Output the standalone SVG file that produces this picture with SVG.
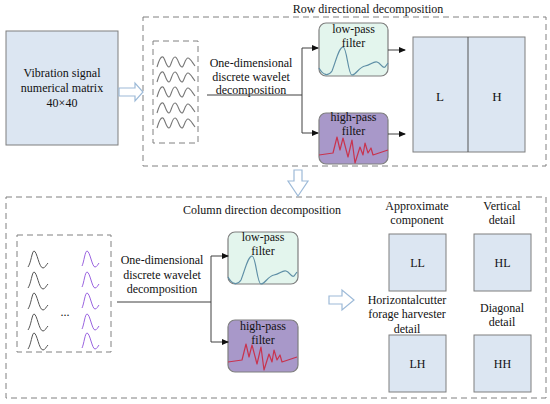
<svg xmlns="http://www.w3.org/2000/svg" width="550" height="404" viewBox="0 0 550 404" font-family="'Liberation Serif', 'Times New Roman', serif">
<defs>
<style>
text{font-family:'Liberation Serif','Times New Roman',serif;font-size:12px;fill:#111111;text-anchor:middle}
.dash{fill:none;stroke:#808080;stroke-width:1;stroke-dasharray:6,4}
.blk{fill:#dce6f2;stroke:#7f7f7f;stroke-width:1}
.lp{fill:#e3f5ed;stroke:#7f7f7f;stroke-width:1.2}
.hp{fill:#a898c9;stroke:#7f7f7f;stroke-width:1.2}
.conn{fill:none;stroke:#404040;stroke-width:1}
.hollow{fill:#ffffff;stroke:#9dbad8;stroke-width:1.2}
.lpc{fill:none;stroke:#5f8fa6;stroke-width:1.2}
.hpc{fill:none;stroke:#c8344f;stroke-width:1.2;stroke-linejoin:round}
.sw{fill:none;stroke:#777777;stroke-width:1.1}
.bw{fill:none;stroke:#555555;stroke-width:1}
.pw{fill:none;stroke:#9a63e0;stroke-width:1}
</style>
<marker id="ah" markerWidth="7" markerHeight="6" refX="6" refY="3" orient="auto" markerUnits="userSpaceOnUse">
<path d="M0,0 L7,3 L0,6 Z" fill="#111"/>
</marker>
<path id="sine" d="M0,5 C2,-2 4,-6 6,-5 C8,-4 9,5 12,5 C14,5 15,-5 18,-5 C21,-5 22,5 25,5 C27,5 28,-4 31,-4 C33,-4 35,0 38,4"/>
<path id="bump" d="M0,16 C3,12 4,0 6,0 C9,0 11,17 15,17 C17,17 18,14 20,12"/>
<path id="bumpP" d="M0,15 C2,11 3,0 5,0 C8,0 10,16 13,16 C15,16 16,13 17,12"/>
<g id="lpCurve"><path class="lpc" d="M0,45 C4,52 9,54 13,48 C17,38 20,24 24,24 C28,24 29,52 33,52 C37,52 40,44 46,43 C52,42 54,38 58,39 C62,40 63,46 66,44 L69,40"/></g>
<g id="hpCurve"><polyline class="hpc" points="0,42 14,40 18,24 21,37 24,25 29,44 33,27 36,50 41,34 44,42 46,30 49,40 52,35 54,42 63,39 69,37"/></g>
</defs>

<!-- Input matrix -->
<g id="input">
<rect class="blk" x="6" y="31" width="112" height="114"/>
<text x="62" y="77">Vibration signal</text>
<text x="62" y="92">numerical matrix</text>
<text x="62" y="107">40×40</text>
</g>

<!-- Row decomposition container -->
<g id="row-stage">
<rect class="dash" x="143" y="17" width="403" height="149"/>
<text x="368" y="13">Row directional decomposition</text>
</g>

<g id="row-signals">
<rect class="dash" x="153" y="41" width="45" height="102"/>
<use href="#sine" class="sw" x="157" y="62"/>
<use href="#sine" class="sw" x="157" y="77"/>
<use href="#sine" class="sw" x="157" y="92"/>
<use href="#sine" class="sw" x="157" y="108"/>
<use href="#sine" class="sw" x="157" y="123"/>
</g>

<g id="row-dwt-label">
<text x="251" y="67">One-dimensional</text>
<text x="251" y="81">discrete wavelet</text>
<text x="251" y="94">decomposition</text>
</g>

<g id="row-lowpass" transform="translate(319,23)">
<rect class="lp" x="0" y="0" width="69" height="53" rx="7"/>
<use href="#lpCurve"/>
<text x="34.5" y="10">low-pass</text>
<text x="34.5" y="24">filter</text>
</g>

<g id="row-highpass" transform="translate(319,113)">
<rect class="hp" x="0" y="0" width="69" height="51" rx="7"/>
<use href="#hpCurve"/>
<text x="34.5" y="8">high-pass</text>
<text x="34.5" y="22">filter</text>
</g>

<g id="row-result">
<rect class="blk" x="413" y="37" width="112" height="115"/>
<line x1="468" y1="37" x2="468" y2="152" stroke="#555" stroke-width="1"/>
<text x="440" y="101" style="font-size:13px">L</text>
<text x="497" y="101" style="font-size:13px">H</text>
</g>

<!-- Column decomposition container -->
<g id="col-stage">
<rect class="dash" x="6" y="197" width="540" height="201"/>
<text x="262" y="214">Column direction decomposition</text>
</g>

<g id="col-signals">
<rect class="dash" x="17" y="235" width="94" height="117"/>
<use href="#bump" class="bw" x="28" y="251"/>
<use href="#bump" class="bw" x="28" y="272"/>
<use href="#bump" class="bw" x="28" y="293"/>
<use href="#bump" class="bw" x="28" y="314"/>
<use href="#bump" class="bw" x="28" y="333"/>
<use href="#bumpP" class="pw" x="82" y="251"/>
<use href="#bumpP" class="pw" x="82" y="272"/>
<use href="#bumpP" class="pw" x="82" y="293"/>
<use href="#bumpP" class="pw" x="82" y="314"/>
<use href="#bumpP" class="pw" x="82" y="333"/>
<text x="65" y="316">...</text>
</g>

<g id="col-dwt-label">
<text x="162" y="264">One-dimensional</text>
<text x="162" y="279">discrete wavelet</text>
<text x="162" y="293">decomposition</text>
</g>

<g id="col-lowpass" transform="translate(228,232)">
<rect class="lp" x="0" y="0" width="70" height="52" rx="7"/>
<use href="#lpCurve"/>
<text x="35" y="9">low-pass</text>
<text x="35" y="23">filter</text>
</g>

<g id="col-highpass" transform="translate(228,320)">
<rect class="hp" x="0" y="0" width="70" height="52" rx="7"/>
<use href="#hpCurve"/>
<text x="35" y="10">high-pass</text>
<text x="35" y="24">filter</text>
</g>

<g id="LL">
<text x="417" y="210">Approximate</text>
<text x="417" y="224">component</text>
<rect class="blk" x="389" y="234" width="57" height="57"/>
<text x="417.5" y="267">LL</text>
</g>
<g id="HL">
<text x="502" y="210">Vertical</text>
<text x="502" y="224">detail</text>
<rect class="blk" x="474" y="234" width="57" height="57"/>
<text x="502.5" y="267">HL</text>
</g>
<g id="LH">
<text x="407" y="304">Horizontalcutter</text>
<text x="407" y="318">forage harvester</text>
<text x="407" y="333">detail</text>
<rect class="blk" x="389" y="335" width="57" height="57"/>
<text x="417.5" y="368">LH</text>
</g>
<g id="HH">
<text x="502" y="312">Diagonal</text>
<text x="502" y="326">detail</text>
<rect class="blk" x="474" y="335" width="57" height="57"/>
<text x="502.5" y="368">HH</text>
</g>

<!-- Connectors -->
<g id="connectors">
<path class="conn" d="M207,95 H302 M302,48 V133"/>
<line class="conn" x1="302" y1="48" x2="318" y2="48" marker-end="url(#ah)"/>
<line class="conn" x1="302" y1="133" x2="318" y2="133" marker-end="url(#ah)"/>
<line class="conn" x1="388" y1="50" x2="405" y2="50" marker-end="url(#ah)"/>
<line class="conn" x1="388" y1="134" x2="405" y2="134" marker-end="url(#ah)"/>
<path class="conn" d="M117,302 H211 M211,256 V342"/>
<line class="conn" x1="211" y1="256" x2="228" y2="256" marker-end="url(#ah)"/>
<line class="conn" x1="211" y1="342" x2="228" y2="342" marker-end="url(#ah)"/>
<path class="hollow" d="M119,88 L135,88 L135,83 L143,92 L135,101 L135,96 L119,96 Z"/>
<path class="hollow" d="M294,170 L302,170 L302,181 L308,181 L298,196 L288,181 L294,181 Z"/>
<path class="hollow" d="M329,296 L342,296 L342,290 L354,300 L342,310 L342,304 L329,304 Z"/>
</g>
</svg>
